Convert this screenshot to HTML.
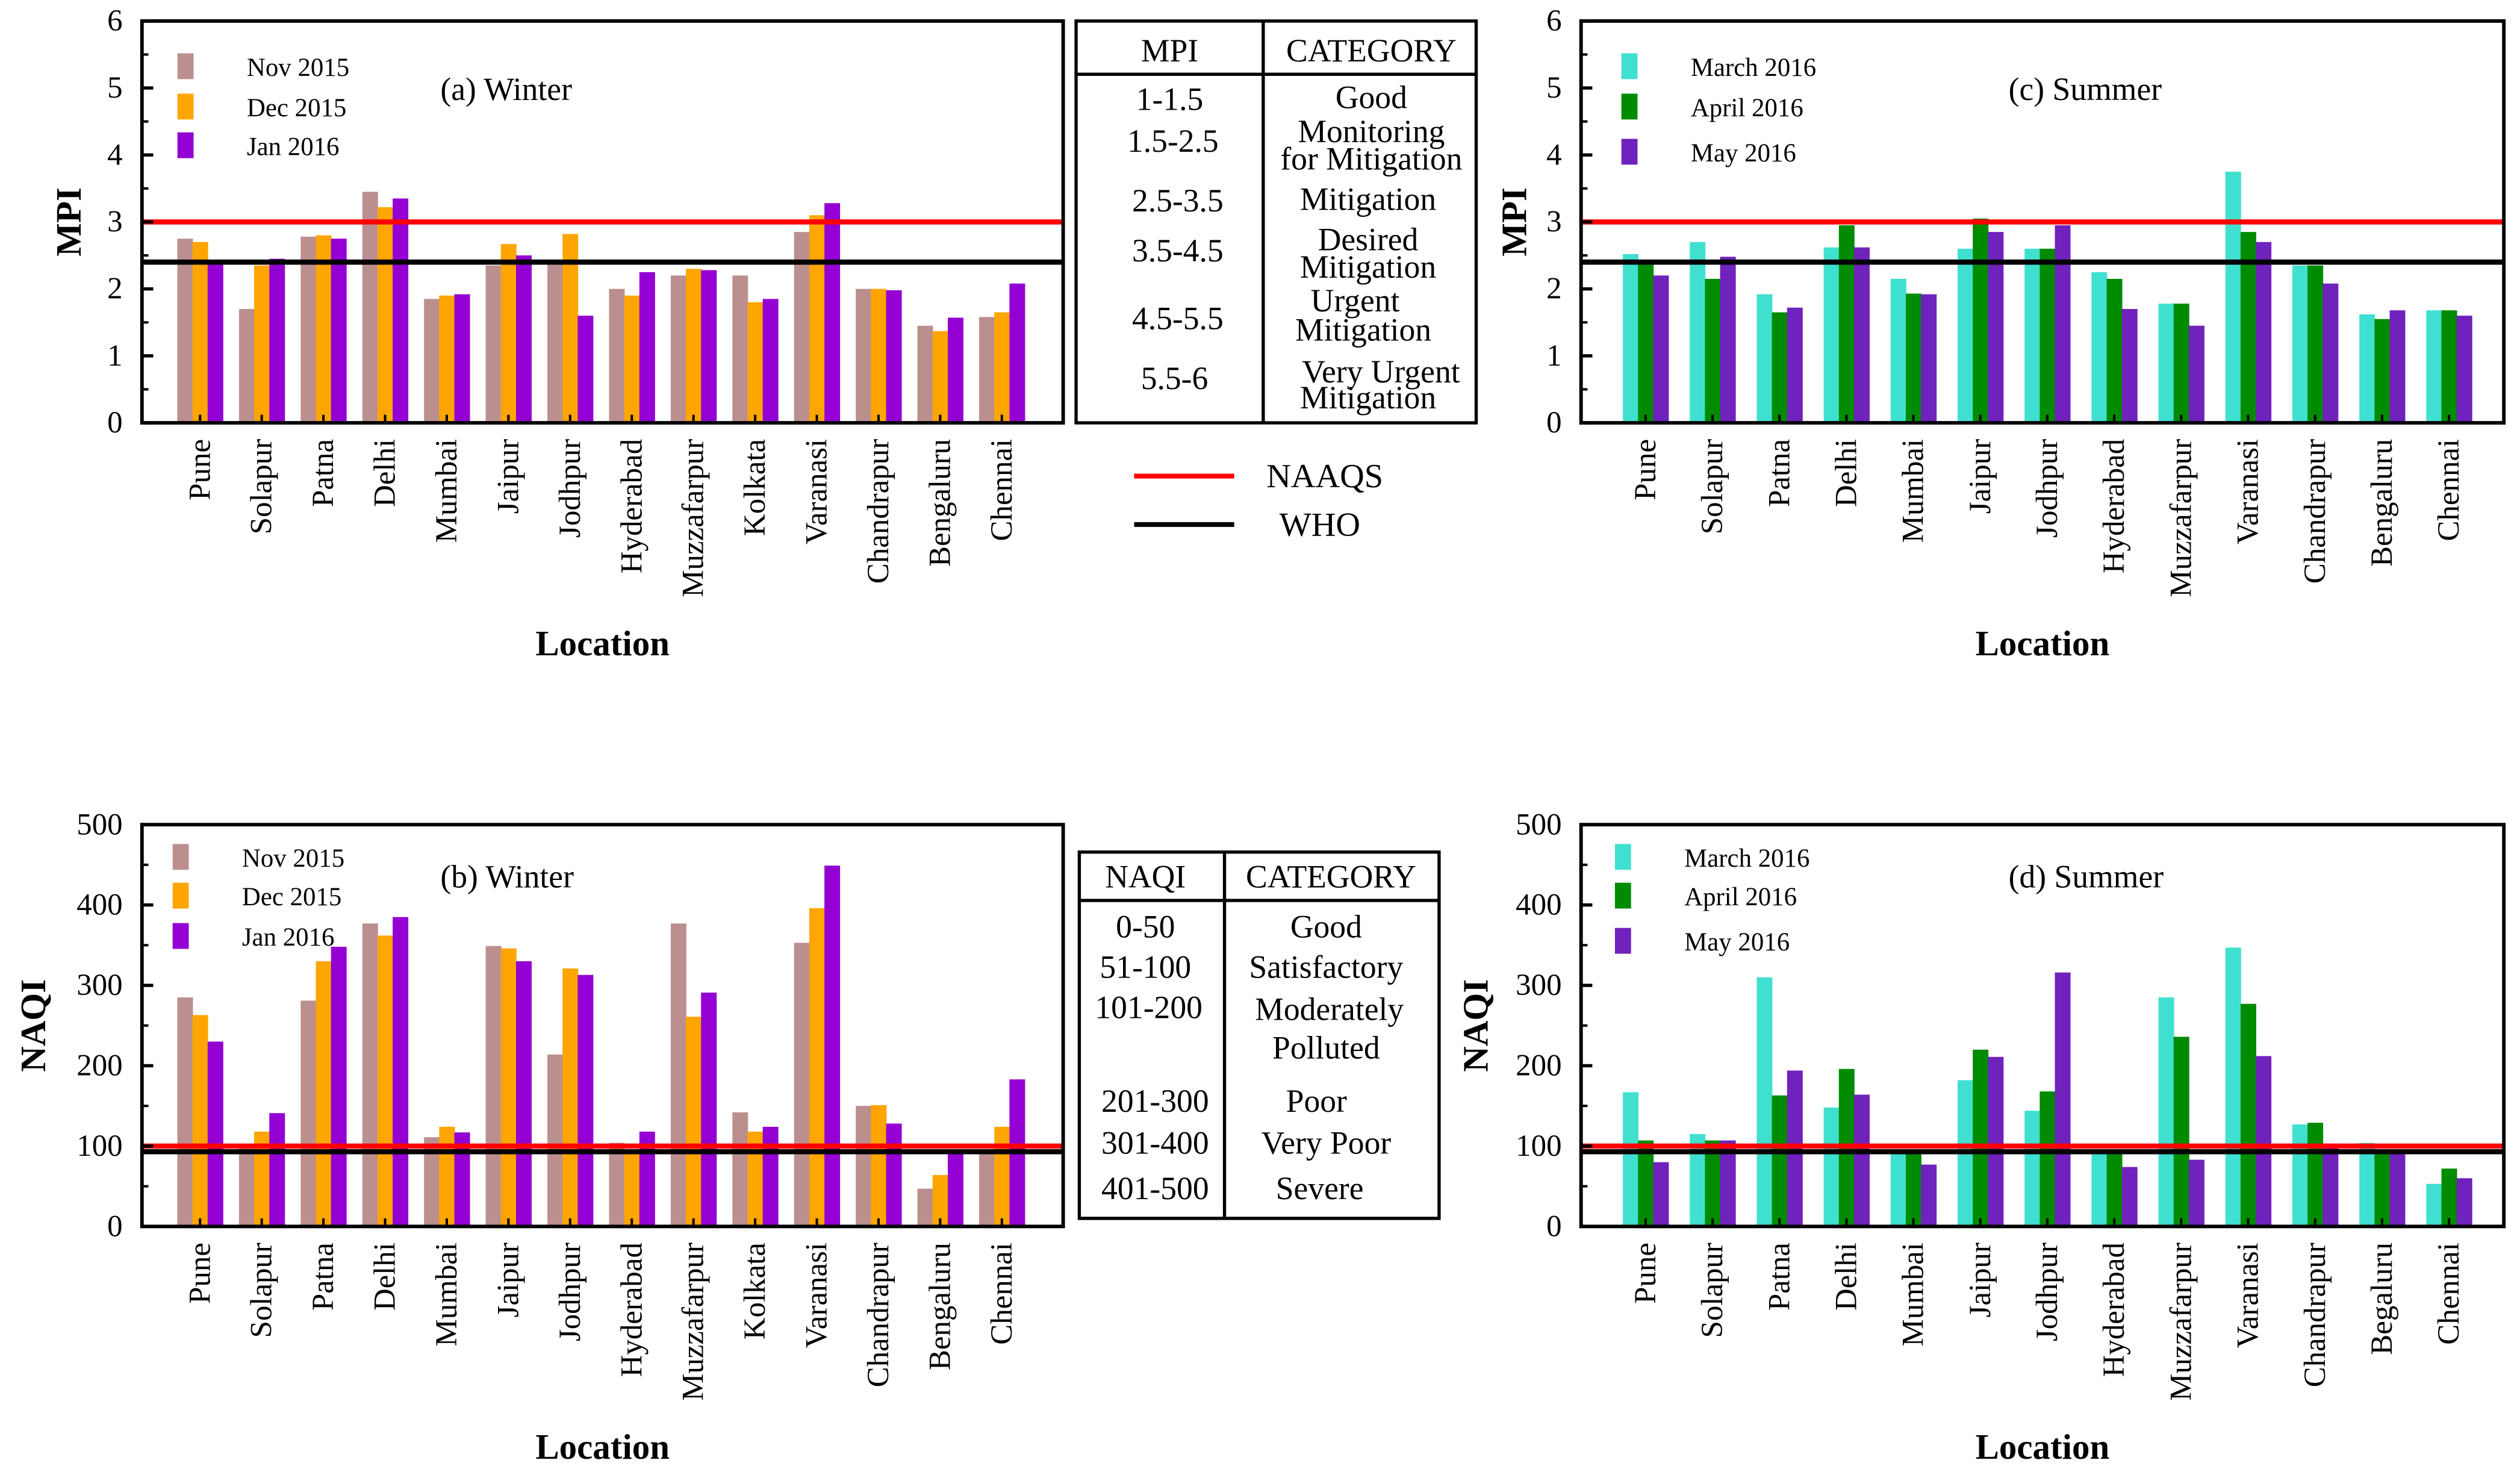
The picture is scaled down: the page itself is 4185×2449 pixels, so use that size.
<!DOCTYPE html>
<html><head><meta charset="utf-8"><style>html,body{margin:0;padding:0;background:#fff}svg{display:block}svg text{font-family:"Liberation Serif","DejaVu Serif",serif;fill:#000}</style></head>
<body>
<svg id="fig" width="4185" height="2449" viewBox="0 0 1562 914" xmlns="http://www.w3.org/2000/svg" font-family="Liberation Serif, DejaVu Serif, serif">
<g id="charts"></g>
<g font-size="20">
<rect x="667" y="13" width="248" height="249" fill="none" stroke="#000" stroke-width="2"/>
<line x1="667" y1="46" x2="915" y2="46" stroke="#000" stroke-width="2"/>
<line x1="783" y1="13" x2="783" y2="262" stroke="#000" stroke-width="2"/>
<text x="725" y="38" text-anchor="middle">MPI</text><text x="850" y="38" text-anchor="middle">CATEGORY</text>
<text x="725" y="68" text-anchor="middle">1-1.5</text><text x="850" y="67" text-anchor="middle">Good</text>
<text x="727" y="94" text-anchor="middle">1.5-2.5</text><text x="850" y="88" text-anchor="middle">Monitoring</text><text x="850" y="105" text-anchor="middle">for Mitigation</text>
<text x="730" y="131" text-anchor="middle">2.5-3.5</text><text x="848" y="130" text-anchor="middle">Mitigation</text>
<text x="730" y="162" text-anchor="middle">3.5-4.5</text><text x="848" y="155" text-anchor="middle">Desired</text><text x="848" y="172" text-anchor="middle">Mitigation</text>
<text x="730" y="204" text-anchor="middle">4.5-5.5</text><text x="840" y="193" text-anchor="middle">Urgent</text><text x="845" y="211" text-anchor="middle">Mitigation</text>
<text x="728" y="241" text-anchor="middle">5.5-6</text><text x="856" y="237" text-anchor="middle">Very Urgent</text><text x="848" y="253" text-anchor="middle">Mitigation</text>
</g>
<g font-size="20">
<rect x="669" y="528" width="223" height="227" fill="none" stroke="#000" stroke-width="2"/>
<line x1="669" y1="558" x2="892" y2="558" stroke="#000" stroke-width="2"/>
<line x1="759" y1="528" x2="759" y2="755" stroke="#000" stroke-width="2"/>
<text x="710" y="550" text-anchor="middle">NAQI</text><text x="825" y="550" text-anchor="middle">CATEGORY</text>
<text x="710" y="581" text-anchor="middle">0-50</text><text x="822" y="581" text-anchor="middle">Good</text>
<text x="710" y="606" text-anchor="middle">51-100</text><text x="822" y="606" text-anchor="middle">Satisfactory</text>
<text x="712" y="631" text-anchor="middle">101-200</text><text x="824" y="632" text-anchor="middle">Moderately</text><text x="822" y="656" text-anchor="middle">Polluted</text>
<text x="716" y="689" text-anchor="middle">201-300</text><text x="816" y="689" text-anchor="middle">Poor</text>
<text x="716" y="715" text-anchor="middle">301-400</text><text x="822" y="715" text-anchor="middle">Very Poor</text>
<text x="716" y="743" text-anchor="middle">401-500</text><text x="818" y="743" text-anchor="middle">Severe</text>
</g>
<g font-size="21">
<line x1="703" y1="295" x2="765" y2="295" stroke="#f00" stroke-width="3"/><text x="785" y="302">NAAQS</text>
<line x1="703" y1="325" x2="765" y2="325" stroke="#000" stroke-width="3"/><text x="793" y="332">WHO</text>
</g>
</svg>
<script>
const cities = ["Pune","Solapur","Patna","Delhi","Mumbai","Jaipur","Jodhpur","Hyderabad","Muzzafarpur","Kolkata","Varanasi","Chandrapur","Bengaluru","Chennai"];
const citiesSummer = ["Pune","Solapur","Patna","Delhi","Mumbai","Jaipur","Jodhpur","Hyderabad","Muzzafarpur","Varanasi","Chandrapur","Bengaluru","Chennai"];
const citiesSummerNaqi = ["Pune","Solapur","Patna","Delhi","Mumbai","Jaipur","Jodhpur","Hyderabad","Muzzafarpur","Varanasi","Chandrapur","Begaluru","Chennai"];
const winterNames = ["Nov 2015","Dec 2015","Jan 2016"];
const summerNames = ["March 2016","April 2016","May 2016"];
const mpiNov = [2.75,1.7,2.78,3.45,1.85,2.35,2.42,2.0,2.2,2.2,2.85,2.0,1.45,1.58];
const mpiDec = [2.7,2.35,2.8,3.22,1.9,2.67,2.82,1.9,2.3,1.8,3.1,2.0,1.37,1.65];
const mpiJan = [2.4,2.45,2.75,3.35,1.92,2.5,1.6,2.25,2.28,1.85,3.28,1.98,1.57,2.08];
const mpiMar = [2.52,2.7,1.92,2.62,2.15,2.6,2.6,2.25,1.78,3.75,2.35,1.62,1.68];
const mpiApr = [2.42,2.15,1.65,2.95,1.93,3.05,2.6,2.15,1.78,2.85,2.35,1.55,1.68];
const mpiMay = [2.2,2.48,1.72,2.62,1.92,2.85,2.95,1.7,1.45,2.7,2.08,1.68,1.6];
const naqiNov = [285,101,281,377,111,349,214,104,377,142,353,150,47,95];
const naqiDec = [263,118,330,362,124,346,321,95,261,118,396,151,64,124];
const naqiJan = [230,141,348,385,117,330,313,118,291,124,449,128,95,183];
const naqiMar = [167,115,310,148,95,182,144,95,285,347,127,104,53];
const naqiApr = [107,107,163,196,95,220,168,95,236,277,129,95,72];
const naqiMay = [80,107,194,164,77,211,316,74,83,212,103,95,60];
const mpiTicks = ["0","1","2","3","4","5","6"];
const naqiTicks = ["0","100","200","300","400","500"];
const mpiLimits = [3.0, 2.4];
const naqiLimits = [100, 93];

const NS="http://www.w3.org/2000/svg";
const root=document.getElementById('charts');
function mk(tag,attrs,parent){const e=document.createElementNS(NS,tag);for(const k in attrs)e.setAttribute(k,attrs[k]);(parent||root).appendChild(e);return e;}

function panel(o){
  const g=mk('g',{});
  
  
  const L=o.x0,R=o.x1,T=o.y0,B=o.y1,n=o.cats.length;
  const ymax=o.ymax;
  const ys=v=>B-(v/ymax)*(B-T);
  const step=(R-L-36-38)/(n-1);
  const xs=i=>L+o.off+i*step;
  const bw=9.4;
  const colors=o.colors;
  o.series.forEach((s,si)=>{
    s.forEach((v,i)=>{
      const r=mk('rect',{x:xs(i)+(si-1.5)*bw,y:ys(v),width:bw+0.3,height:B-ys(v),fill:colors[si]},g);
      
      
    });
  });
  const l1=mk('line',{x1:L,x2:R,y1:ys(o.limits[0]),y2:ys(o.limits[0]),stroke:'#f00','stroke-width':3.2},g);
  
  const l2=mk('line',{x1:L,x2:R,y1:ys(o.limits[1]),y2:ys(o.limits[1]),stroke:'#000','stroke-width':3.2},g);
  
  const tk=o.ticks;
  tk.forEach((t,i)=>{
    const v=parseFloat(t);const y=ys(v);
    mk('line',{x1:L,x2:L+7,y1:y,y2:y,stroke:'#000','stroke-width':2},g);
    if(i<tk.length-1){const ym=ys(v+o.tstep/2);mk('line',{x1:L,x2:L+4,y1:ym,y2:ym,stroke:'#000','stroke-width':1.5},g);}
    const tx=mk('text',{x:L-12,y:y+6,'text-anchor':'end','font-size':19},g);tx.textContent=t;
    
  });
  o.cats.forEach((c,i)=>{
    mk('line',{x1:xs(i),x2:xs(i),y1:B,y2:B-5,stroke:'#000','stroke-width':1.5},g);
    const tx=mk('text',{x:0,y:0,'text-anchor':'end','font-size':19,transform:`translate(${xs(i)+6},${B+10}) rotate(-90)`},g);
    tx.textContent=c;
    
  });
  mk('rect',{x:L,y:T,width:R-L,height:B-T,fill:'none',stroke:'#000','stroke-width':2.2},g);
  const yt=mk('text',{x:0,y:0,'text-anchor':'middle','font-size':22,'font-weight':'bold',transform:`translate(${o.ylx},${(T+B)/2}) rotate(-90)`},g);
  yt.textContent=o.ylabel;
  const xt=mk('text',{x:(L+R)/2,y:B+144,'text-anchor':'middle','font-size':22,'font-weight':'bold'},g);
  xt.textContent='Location';
  const tt=mk('text',{x:o.titleX,y:o.titleY,'font-size':20},g);
  tt.textContent=o.title;
  o.names.forEach((nm,si)=>{
    const ly=o.legY[si];
    const lr=mk('rect',{x:L+o.legX,y:ly-16,width:10,height:16,fill:colors[si]},g);
    
    const lt=mk('text',{x:L+o.legX+43,y:ly-2,'font-size':16},g);
    lt.textContent=nm;
  });
}
const wc=['#BC8F8F','#FFA500','#9400D3'];
const sc=['#40E0D0','#008B00','#7022BD'];
panel({name:'panel-a-winter-mpi',x0:88,x1:659,y0:13,y1:262,ymax:6,ticks:mpiTicks,tstep:1,cats:cities,series:[mpiNov,mpiDec,mpiJan],colors:wc,limits:mpiLimits,off:36,ylabel:'MPI',ylx:50,title:'(a) Winter',titleX:273,titleY:62,names:winterNames,legX:22,legY:[49,74,98]});
panel({name:'panel-c-summer-mpi',x0:980,x1:1552,y0:13,y1:262,ymax:6,ticks:mpiTicks,tstep:1,cats:citiesSummer,series:[mpiMar,mpiApr,mpiMay],colors:sc,limits:mpiLimits,off:40,ylabel:'MPI',ylx:946,title:'(c) Summer',titleX:1245,titleY:62,names:summerNames,legX:25,legY:[49,74,102]});
panel({name:'panel-b-winter-naqi',x0:88,x1:659,y0:511,y1:760,ymax:500,ticks:naqiTicks,tstep:100,cats:cities,series:[naqiNov,naqiDec,naqiJan],colors:wc,limits:naqiLimits,off:36,ylabel:'NAQI',ylx:28,title:'(b) Winter',titleX:273,titleY:550,names:winterNames,legX:19,legY:[539,563,588]});
panel({name:'panel-d-summer-naqi',x0:980,x1:1552,y0:511,y1:760,ymax:500,ticks:naqiTicks,tstep:100,cats:citiesSummerNaqi,series:[naqiMar,naqiApr,naqiMay],colors:sc,limits:naqiLimits,off:40,ylabel:'NAQI',ylx:922,title:'(d) Summer',titleX:1245,titleY:550,names:summerNames,legX:21,legY:[539,563,591]});
</script>
</body></html>
